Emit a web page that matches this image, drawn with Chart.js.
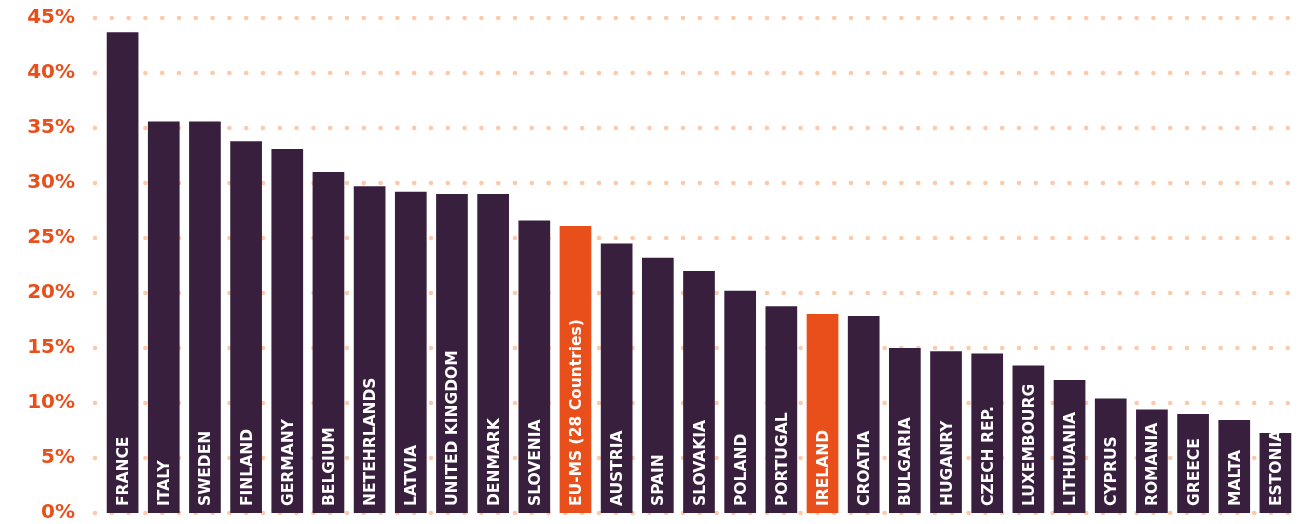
<!DOCTYPE html>
<html>
<head>
<meta charset="utf-8">
<script src="https://cdn.jsdelivr.net/npm/chart.js@4"></script>
<style>
  html, body { margin: 0; padding: 0; background: #ffffff; }
  #wrap { width: 1313px; height: 524px; position: relative; }
</style>
</head>
<body>
<div id="wrap"><canvas id="c"></canvas></div>
<script>
const categories = ["FRANCE","ITALY","SWEDEN","FINLAND","GERMANY","BELGIUM","NETEHRLANDS","LATVIA","UNITED KINGDOM","DENMARK","SLOVENIA","EU-MS (28 Countries)","AUSTRIA","SPAIN","SLOVAKIA","POLAND","PORTUGAL","IRELAND","CROATIA","BULGARIA","HUGANRY","CZECH REP.","LUXEMBOURG","LITHUANIA","CYPRUS","ROMANIA","GREECE","MALTA","ESTONIA"];
const values = [43.7,35.6,35.6,33.8,33.1,31.0,29.7,29.2,29.0,29.0,26.6,26.1,24.5,23.2,22.0,20.2,18.8,18.1,17.9,15.0,14.7,14.5,13.4,12.1,10.4,9.4,9.0,8.45,7.27];
const highlighted = ["EU-MS (28 Countries)","IRELAND"];
const yTicks = [0,5,10,15,20,25,30,35,40,45];

const DARK = '#381f3e';
const ORANGE = '#e94f1b';
const DOT = '#fdc9a8';

const dotGrid = {
  id: 'dotGrid',
  beforeDatasetsDraw(chart) {
    const {ctx, chartArea, scales} = chart;
    const y = scales.y;
    const x0 = chartArea.left - 7, x1 = chartArea.right - 7, step = 16.8;
    ctx.save();
    ctx.fillStyle = DOT;
    yTicks.forEach(v => {
      const py = y.getPixelForValue(v);
      for (let px = x0; px <= x1 + 0.5; px += step) {
        ctx.beginPath();
        ctx.arc(px, py, 2.3, 0, Math.PI * 2);
        ctx.fill();
      }
    });
    ctx.restore();
  }
};

const barLabels = {
  id: 'barLabels',
  afterDatasetsDraw(chart) {
    const {ctx, scales} = chart;
    const meta = chart.getDatasetMeta(0);
    const base = scales.y.getPixelForValue(0) - 7;
    ctx.save();
    ctx.fillStyle = '#ffffff';
    ctx.font = 'bold 15.5px "DejaVu Sans"';
    ctx.textAlign = 'left';
    ctx.textBaseline = 'middle';
    meta.data.forEach((bar, i) => {
      ctx.save();
      ctx.translate(bar.x + 1.5, base);
      ctx.rotate(-Math.PI / 2);
      ctx.fillText(categories[i], 0, 0);
      ctx.restore();
    });
    ctx.restore();
  }
};

new Chart(document.getElementById('c'), {
  type: 'bar',
  data: {
    labels: categories,
    datasets: [{
      data: values,
      backgroundColor: categories.map(c => highlighted.includes(c) ? ORANGE : DARK),
      borderWidth: 0,
      barPercentage: 0.77,
      categoryPercentage: 1.0
    }]
  },
  options: {
    responsive: true,
    maintainAspectRatio: false,
    animation: false,
    layout: { padding: { top: 18, bottom: 11, left: 0, right: 17 } },
    plugins: { legend: { display: false }, tooltip: { enabled: false } },
    scales: {
      x: { display: false, offset: true, grid: { display: false } },
      y: {
        min: 0, max: 45,
        afterBuildTicks(scale) { scale.ticks = yTicks.map(v => ({ value: v })); },
        afterFit(scale) { scale.width = 102; scale.paddingTop = 0; scale.paddingBottom = 0; },
        grid: { display: false, drawTicks: false },
        border: { display: false },
        ticks: {
          padding: 27,
          color: ORANGE,
          font: { family: '"DejaVu Sans"', weight: 'bold', size: 20, lineHeight: 1 },
          callback: v => v + '%'
        }
      }
    }
  },
  plugins: [dotGrid, barLabels]
});
</script>
</body>
</html>
